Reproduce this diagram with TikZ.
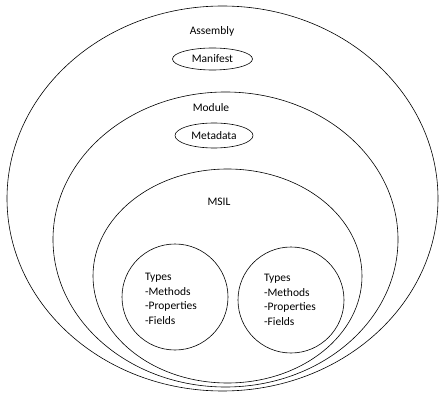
\documentclass[tikz,border=0pt]{standalone}
\usepackage{fontspec}
\setmainfont{Carlito}
\usetikzlibrary{shapes.geometric}
\begin{document}
\begin{tikzpicture}[x=1pt,y=-1pt,
  ring/.style={draw,ellipse,line width=0.6pt,inner sep=0pt},
  lbl/.style={font=\fontsize{11.5}{14.5}\selectfont},
  tp/.style={draw,circle,line width=0.6pt,minimum size=106pt,inner sep=0pt},
  tptxt/.style={lbl,align=left}]
\useasboundingbox (0,0) rectangle (448,404);
% nested rings
\node[ring,minimum width=431pt,minimum height=385pt] (asm) at (222.5,198.5) {};
\node[ring,minimum width=345pt,minimum height=295pt] (mod) at (225.5,239.5) {};
\node[ring,minimum width=269pt,minimum height=214pt] (msil) at (227.5,276) {};
% labels
\node[lbl] (asmlbl) at (212,31) {Assembly};
\node[ring,lbl,minimum width=80pt,minimum height=22pt] (man) at (212.5,59) {Manifest};
\node[lbl] (modlbl) at (211,108) {Module};
\node[ring,lbl,minimum width=78pt,minimum height=25pt] (meta) at (214,135.5) {Metadata};
\node[lbl] (msillbl) at (219,202) {MSIL};
% types
\node[tp] (ta) at (175,297) {};
\node[tp] (tb) at (291,300) {};
\node[tptxt] (tatxt) at (171,299) {Types\\-Methods\\-Properties\\-Fields};
\node[tptxt] (tbtxt) at (290,300) {Types\\-Methods\\-Properties\\-Fields};
\end{tikzpicture}
\end{document}
